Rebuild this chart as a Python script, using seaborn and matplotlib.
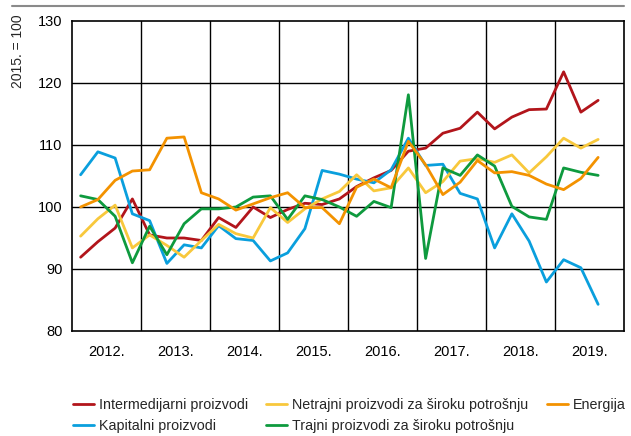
import numpy as np
import pandas as pd
import matplotlib
matplotlib.use("Agg")
import matplotlib.pyplot as plt
from matplotlib.lines import Line2D
import seaborn as sns

# Quarterly indices, 2012 Q1 - 2019 Q3 (2015. = 100)
years = ["2012.", "2013.", "2014.", "2015.", "2016.", "2017.", "2018.", "2019."]

intermedijarni = [91.9, 94.4, 96.6, 101.3, 95.5, 95.0, 95.0, 94.6,
                  98.3, 96.7, 100.0, 98.3, 99.6, 100.6, 100.4, 101.3,
                  103.3, 104.7, 105.9, 109.0, 109.5, 111.9, 112.7, 115.3,
                  112.6, 114.5, 115.7, 115.8, 121.8, 115.3, 117.2]
kapitalni = [105.2, 108.9, 107.9, 98.9, 97.8, 90.9, 93.9, 93.4,
             97.0, 94.9, 94.6, 91.3, 92.6, 96.5, 105.9, 105.3,
             104.5, 103.9, 106.0, 111.1, 106.7, 106.9, 102.2, 101.3,
             93.4, 98.9, 94.5, 87.9, 91.5, 90.2, 84.3]
netrajni = [95.3, 98.1, 100.3, 93.4, 95.5, 93.8, 91.9, 94.6,
            97.2, 95.7, 95.0, 99.9, 97.5, 99.7, 101.3, 102.5,
            105.2, 102.6, 103.1, 106.3, 102.3, 104.1, 107.4, 107.8,
            107.2, 108.4, 105.5, 108.1, 111.1, 109.5, 110.9]
trajni = [101.8, 101.2, 98.5, 91.0, 96.9, 92.3, 97.3, 99.7,
          99.7, 100.0, 101.6, 101.8, 98.0, 101.8, 101.2, 100.0,
          98.5, 100.9, 99.9, 118.1, 91.7, 106.3, 105.1, 108.4,
          106.6, 100.1, 98.4, 98.0, 106.3, 105.6, 105.1]
energija = [100.0, 101.2, 104.3, 105.8, 106.0, 111.1, 111.3, 102.3,
            101.3, 99.5, 100.5, 101.5, 102.3, 99.9, 99.9, 97.3,
            103.2, 104.5, 103.1, 110.6, 106.8, 102.0, 104.0, 107.5,
            105.5, 105.7, 105.1, 103.7, 102.8, 104.6, 108.0]

series = {
    "Intermedijarni proizvodi": intermedijarni,
    "Kapitalni proizvodi": kapitalni,
    "Netrajni proizvodi za široku potrošnju": netrajni,
    "Trajni proizvodi za široku potrošnju": trajni,
    "Energija": energija,
}
colors = ["#B2151B", "#0A9FDD", "#F8C83C", "#0E9A3E", "#F39200"]

rows = []
for name, vals in series.items():
    for i, v in enumerate(vals):
        rows.append({"q": i, "val": v, "serija": name})
df = pd.DataFrame(rows)

sns.set_style("white")
plt.rcParams["font.family"] = ["Liberation Sans", "DejaVu Sans"]

fig = plt.figure(figsize=(6.31, 4.36), dpi=100)
ax = fig.add_axes([72 / 631, 1 - 331 / 436, 552 / 631, 310 / 436])

sns.lineplot(data=df, x="q", y="val", hue="serija", palette=colors,
             linewidth=2.0, ax=ax, legend=False)

ax.set_xlim(-0.5, 31.5)
ax.set_ylim(80, 130)
ax.set_yticks(np.arange(80, 131, 10))
ax.set_xticks([1.5 + 4 * k for k in range(len(years))])
ax.set_xticklabels(years)
ax.tick_params(axis="both", length=0, labelsize=10.5, colors="black")
ax.tick_params(axis="x", pad=10)
ax.tick_params(axis="y", pad=7)

for k in range(1, len(years)):
    ax.axvline(4 * k - 0.5, color="black", lw=1.0, zorder=0)
for y in range(90, 130, 10):
    ax.axhline(y, color="black", lw=1.0, zorder=0)
for s in ax.spines.values():
    s.set_color("black")
    s.set_linewidth(1.2)

ax.set_xlabel("")
ax.set_ylabel("")
fig.text(18 / 631, 1 - 14 / 436, "2015. = 100", rotation=90, ha="center", va="top",
         fontsize=10)

# top rule
fig.add_artist(Line2D([12 / 631, 624 / 631], [1 - 6 / 436] * 2, color="#8a8a8a", lw=1.5))

handles = [Line2D([0], [0], color=c, lw=2.0) for c in colors]
fig.legend(handles, list(series.keys()), ncol=3, loc="upper left",
           bbox_to_anchor=(60 / 631, 1 - 385 / 436), frameon=False,
           fontsize=10.3, handlelength=1.45, handletextpad=0.35,
           columnspacing=1.3, labelspacing=0.5)

fig.savefig("out.png", dpi=100)
